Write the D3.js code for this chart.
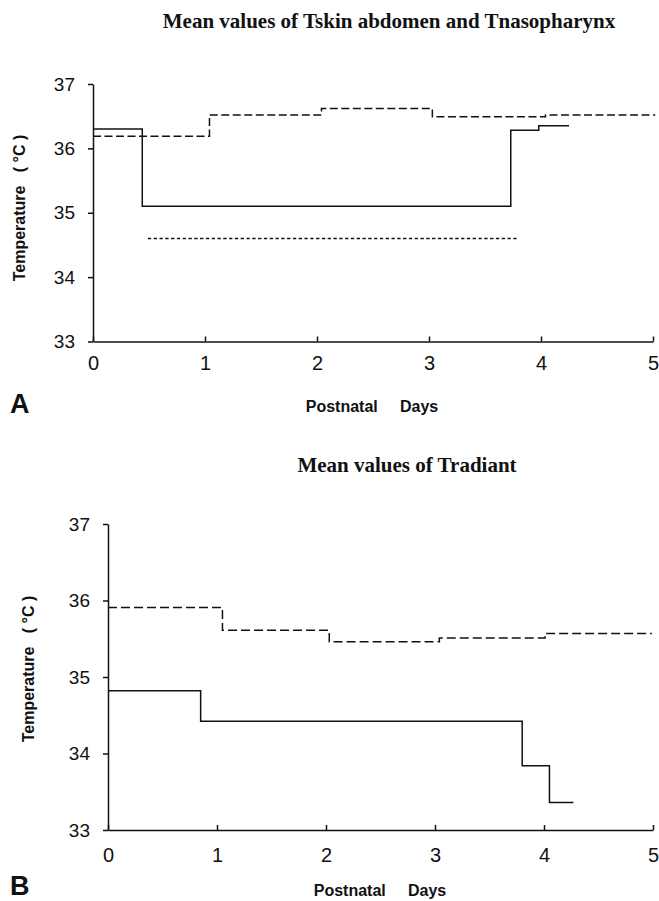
<!DOCTYPE html>
<html>
<head>
<meta charset="utf-8">
<script src="https://cdn.jsdelivr.net/npm/d3@7"></script>
<style>
  html, body { margin: 0; padding: 0; background: #fff; }
  svg { display: block; }
  text { white-space: pre; }
</style>
</head>
<body>
<svg id="chart" width="659" height="901"></svg>
<script>
// ---------- Data ----------
// Panel A: Tskin abdomen / Tnasopharynx
const daysTicks = [0, 1, 2, 3, 4, 5];
const tempTicks = [33, 34, 35, 36, 37];

const aSolidDays  = [0, 0.44, 3.73, 3.98, 4.25];
const aSolidTemp  = [36.30, 35.10, 36.28, 36.35, 36.35];

const aDashDays   = [0, 1.04, 2.04, 3.03, 4.04, 5.02];
const aDashTemp   = [36.19, 36.52, 36.62, 36.49, 36.52, 36.52];

const aDotDays    = [0.49, 3.79];
const aDotTemp    = [34.60, 34.59];

// Panel B: Tradiant
const bSolidDays  = [0, 0.85, 3.80, 4.05, 4.27];
const bSolidTemp  = [34.82, 34.42, 33.84, 33.36, 33.36];

const bDashDays   = [0, 1.05, 2.03, 3.04, 4.01, 4.99];
const bDashTemp   = [35.91, 35.61, 35.46, 35.51, 35.57, 35.57];

const titleA = "Mean values of Tskin abdomen and Tnasopharynx";
const titleB = "Mean values of Tradiant";
const yLabel = "Temperature   ( °C )";
const xLabel = "Postnatal     Days";

// ---------- Drawing ----------
const svg = d3.select("#chart");
const SANS = "'Liberation Sans', Arial, Helvetica, sans-serif";
const SERIF = "'Liberation Serif', 'Times New Roman', serif";

function zip(xs, ys) { return xs.map((d, i) => [d, ys[i]]); }

function panel(cfg) {
  const x = d3.scaleLinear().domain([0, 5]).range([cfg.x0, cfg.x1]);
  const y = d3.scaleLinear().domain([33, 37]).range([cfg.y0, cfg.y1]);
  const g = svg.append("g");

  // title
  g.append("text")
    .attr("x", cfg.titleX).attr("y", cfg.titleY)
    .attr("text-anchor", "middle")
    .attr("font-family", SERIF).attr("font-weight", "bold")
    .attr("font-size", 21).attr("fill", "#111")
    .text(cfg.title);

  // y axis
  const ya = g.append("g")
    .attr("transform", `translate(${cfg.x0},0)`)
    .call(d3.axisLeft(y).tickValues(tempTicks).tickFormat(d3.format("d"))
      .tickSizeInner(5).tickSizeOuter(0).tickPadding(13));
  ya.selectAll("text").attr("font-family", SANS).attr("font-size", 19).attr("fill", "#111");

  // x axis
  const xa = g.append("g")
    .attr("transform", `translate(0,${cfg.y0})`)
    .call(d3.axisBottom(x).tickValues(daysTicks).tickFormat(d3.format("d"))
      .tickSizeInner(-5).tickSizeOuter(0).tickPadding(cfg.xPad));
  xa.selectAll("text").attr("font-family", SANS).attr("font-size", 20).attr("fill", "#111");

  g.selectAll(".domain, .tick line").attr("stroke", "#111").attr("stroke-width", 1.5);

  // series
  const line = d3.line().x(d => x(d[0])).y(d => y(d[1])).curve(d3.curveStepAfter);
  cfg.series.forEach(s => {
    g.append("path")
      .datum(zip(s.days, s.temp))
      .attr("d", line)
      .attr("fill", "none")
      .attr("stroke", "#111")
      .attr("stroke-width", 1.5)
      .attr("stroke-dasharray", s.dash || null);
  });

  // y label
  g.append("text")
    .attr("transform", `translate(${cfg.yLabX},${cfg.yLabY}) rotate(-90)`)
    .attr("text-anchor", "middle")
    .attr("font-family", SANS).attr("font-weight", "bold")
    .attr("font-size", 16).attr("fill", "#111")
    .text(yLabel);

  // x label
  g.append("text")
    .attr("x", cfg.xLabX).attr("y", cfg.xLabY)
    .attr("text-anchor", "middle")
    .attr("font-family", SANS).attr("font-weight", "bold")
    .attr("font-size", 16).attr("fill", "#111")
    .text(xLabel);

  // panel letter
  g.append("text")
    .attr("x", 10).attr("y", cfg.letterY)
    .attr("font-family", SANS).attr("font-weight", "bold")
    .attr("font-size", 27).attr("fill", "#111")
    .text(cfg.letter);
}

panel({
  x0: 93, x1: 653, y0: 341.5, y1: 84,
  title: titleA, titleX: 389, titleY: 28,
  xPad: 14, yLabX: 25, yLabY: 208,
  xLabX: 372, xLabY: 412,
  letter: "A", letterY: 413,
  series: [
    { days: aSolidDays, temp: aSolidTemp },
    { days: aDashDays, temp: aDashTemp, dash: "8,3.5" },
    { days: aDotDays, temp: aDotTemp, dash: "3.3,2.5" }
  ]
});

panel({
  x0: 108, x1: 653, y0: 830, y1: 524,
  title: titleB, titleX: 407, titleY: 472,
  xPad: 18, yLabX: 34, yLabY: 669,
  xLabX: 380, xLabY: 896,
  letter: "B", letterY: 895,
  series: [
    { days: bSolidDays, temp: bSolidTemp },
    { days: bDashDays, temp: bDashTemp, dash: "9,4" }
  ]
});
</script>
</body>
</html>
